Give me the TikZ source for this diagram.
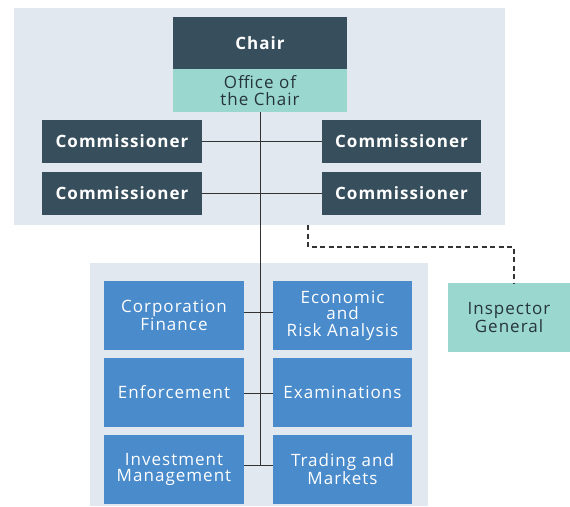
\documentclass[tikz,border=0pt]{standalone}
\usepackage{fontspec}
\setmainfont{Open Sans}[LetterSpace=6]
\definecolor{darkslate}{HTML}{374F5C}
\definecolor{paleteal}{HTML}{9AD7CF}
\definecolor{midblue}{HTML}{4A8BCB}
\definecolor{panelbg}{HTML}{E1E8EF}
\definecolor{inktext}{HTML}{26343B}
\definecolor{lineink}{HTML}{333333}
\begin{document}
\begin{tikzpicture}[x=1pt,y=-1pt,
  every node/.style={inner sep=0pt,outer sep=0pt,align=center,
    font=\fontsize{17}{16.5}\selectfont},
  darkbox/.style={rectangle,fill=darkslate,text=white,font=\fontsize{17}{16.5}\selectfont\bfseries},
  tealbox/.style={rectangle,fill=paleteal,text=inktext},
  bluebox/.style={rectangle,fill=midblue,text=white,minimum width=140pt,minimum height=69pt},
  conn/.style={draw=lineink,line width=0.9pt},
  dashconn/.style={draw=lineink,line width=1.3pt,dashed,dash pattern=on 5pt off 3.5pt}]
\useasboundingbox (0,0) rectangle (570,506);
% panels
\fill[panelbg] (14,8) rectangle (505,225);
\fill[panelbg] (90,263) rectangle (428,506);
% top
\node[darkbox,minimum width=174pt,minimum height=52pt] (chair) at (260,43) {Chair};
\node[tealbox,minimum width=174pt,minimum height=43pt] (office) at (260,90.5) {Office of\\the Chair};
\node[darkbox,minimum width=160pt,minimum height=43pt] (c1) at (122,141.5) {Commissioner};
\node[darkbox,minimum width=159pt,minimum height=43pt] (c2) at (401.5,141.5) {Commissioner};
\node[darkbox,minimum width=160pt,minimum height=43pt] (c3) at (122,193.5) {Commissioner};
\node[darkbox,minimum width=159pt,minimum height=43pt] (c4) at (401.5,193.5) {Commissioner};
% bottom
\node[bluebox] (cf) at (174,315.5) {Corporation\\Finance};
\node[bluebox,minimum width=139pt] (era) at (342.5,315.5) {Economic\\and\\Risk Analysis};
\node[bluebox] (enf) at (174,392.5) {Enforcement};
\node[bluebox,minimum width=139pt] (exa) at (342.5,392.5) {Examinations};
\node[bluebox] (im) at (174,469.5) {Investment\\Management};
\node[bluebox,minimum width=139pt] (tm) at (342.5,469.5) {Trading and\\Markets};
% inspector general
\node[tealbox,minimum width=122pt,minimum height=69pt] (ig) at (509,317.5) {Inspector\\General};
% connectors
\coordinate (vend) at (260,465);
\coordinate (r1) at (260,312);
\coordinate (r2) at (260,393);
\coordinate (dstart) at (308,225);
\coordinate (dturn) at (514,247);
\draw[conn] (office.south) -- (vend);
\draw[conn] (c1.east) -- (c2.west);
\draw[conn] (c3.east) -- (c4.west);
\draw[conn] (cf.east |- r1) -- (era.west |- r1);
\draw[conn] (enf.east |- r2) -- (exa.west |- r2);
\draw[conn] (im.east |- vend) -- (tm.west |- vend);
\draw[dashconn] (dstart) |- (dturn) -- (dturn |- ig.north);
\end{tikzpicture}
\end{document}
